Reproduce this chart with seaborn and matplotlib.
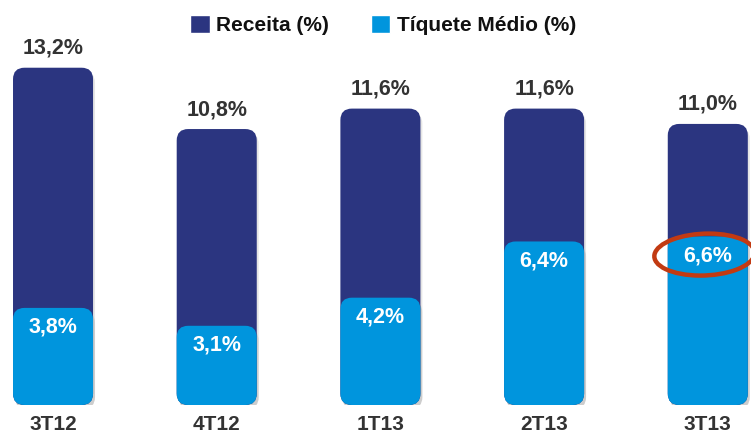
import matplotlib
matplotlib.use("Agg")
import matplotlib.pyplot as plt
import seaborn as sns
import pandas as pd
from matplotlib.patches import FancyBboxPatch, Ellipse, Patch

categories = ["3T12", "4T12", "1T13", "2T13", "3T13"]
receita = [13.2, 10.8, 11.6, 11.6, 11.0]
tiquete = [3.8, 3.1, 4.2, 6.4, 6.6]
receita_labels = ["13,2%", "10,8%", "11,6%", "11,6%", "11,0%"]
tiquete_labels = ["3,8%", "3,1%", "4,2%", "6,4%", "6,6%"]

DARK = "#2B3580"
LIGHT = "#0095DD"
TXT = "#333333"

sns.set_theme(style="white")
plt.rcParams["font.family"] = ["Liberation Sans Narrow", "Liberation Sans", "DejaVu Sans"]

df = pd.DataFrame({"cat": categories, "receita": receita, "tiquete": tiquete})

W, H = 751, 441
fig = plt.figure(figsize=(W / 100, H / 100), dpi=100)
ax = fig.add_axes([0, 36 / H, 1, 1 - 36 / H])

sns.barplot(data=df, x="cat", y="receita", color=DARK, width=0.489, ax=ax, saturation=1)
sns.barplot(data=df, x="cat", y="tiquete", color=LIGHT, width=0.489, ax=ax, saturation=1)

XL, XR = -0.324, 4.264
YMAX = 15.85
ax.set_xlim(XL, XR)
ax.set_ylim(0, YMAX)

xpx = W / (XR - XL)
ypx = 405 / YMAX
aspect = xpx / ypx
patches = list(ax.patches)
for i, p in enumerate(patches):
    x0, y0 = p.get_x(), p.get_y()
    w, h = p.get_width(), p.get_height()
    fc = p.get_facecolor()
    p.remove()
    sh = FancyBboxPatch((x0 + 0.012, y0 - 0.14), w, h,
                        boxstyle="round,pad=0,rounding_size=0.07",
                        mutation_aspect=aspect, fc="#000000", alpha=0.10,
                        ec="none", zorder=1 + 2 * i)
    ax.add_patch(sh)
    fb = FancyBboxPatch((x0, y0), w, h,
                        boxstyle="round,pad=0,rounding_size=0.07",
                        mutation_aspect=aspect, fc=fc, ec="none", zorder=2 + 2 * i)
    ax.add_patch(fb)

dy_top = 19.5 / ypx
for i in range(len(categories)):
    ax.text(i, receita[i] + dy_top, receita_labels[i], ha="center", va="center",
            fontsize=15.5, fontweight="bold", color=TXT, zorder=30)
    ax.text(i, tiquete[i] - dy_top, tiquete_labels[i], ha="center", va="center",
            fontsize=15.5, fontweight="bold", color="white", zorder=30)

# red highlight ellipse around the last light-blue label
ell = Ellipse((4.0 - 0.02, tiquete[4] - dy_top + 0.05), width=100 / xpx, height=42 / ypx,
              angle=-2, fill=False, ec="#C23A12", lw=3.2, zorder=35)
ax.add_patch(ell)

ax.set_xlabel("")
ax.set_ylabel("")
ax.set_yticks([])
ax.tick_params(axis="x", length=0, pad=7)
ax.set_xticks(range(len(categories)))
ax.set_xticklabels(categories, fontsize=15, fontweight="bold", color=TXT)
for s in ax.spines.values():
    s.set_visible(False)

handles = [Patch(facecolor=DARK, label="Receita (%)"),
           Patch(facecolor=LIGHT, label="Tíquete Médio (%)")]
leg = fig.legend(handles=handles, loc="center", bbox_to_anchor=(0.51, 0.943),
                 ncol=2, frameon=False, fontsize=15, handlelength=0.95,
                 handleheight=0.95, handletextpad=0.3, columnspacing=2.0)
for t in leg.get_texts():
    t.set_color("#111111")
    t.set_fontweight("bold")

fig.savefig("out.png", dpi=100)
